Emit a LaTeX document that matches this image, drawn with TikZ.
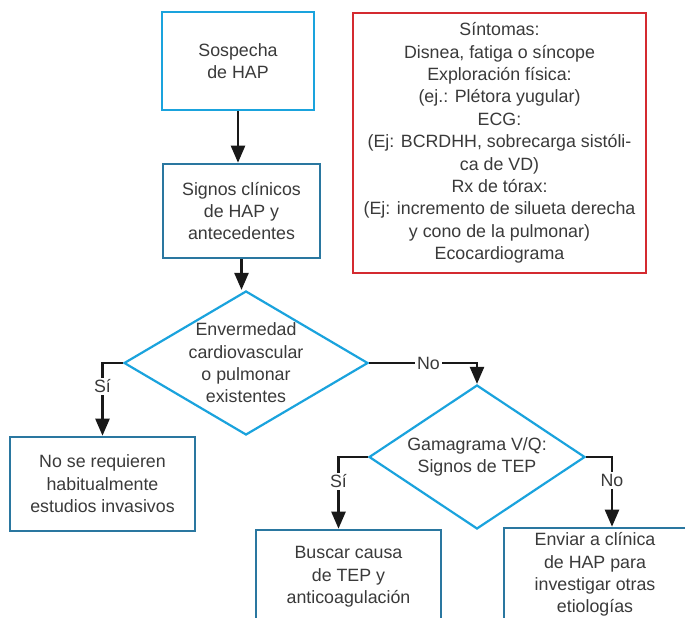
\documentclass[tikz,border=0pt]{standalone}
\usepackage{fontspec}
\setmainfont{Liberation Sans}
\usetikzlibrary{shapes.geometric,arrows.meta}

\definecolor{celeste}{HTML}{1AA3DD}
\definecolor{azulosc}{HTML}{2A77A0}
\definecolor{rojo}{HTML}{D42A30}
\definecolor{texto}{HTML}{3A3A3A}

\tikzset{
  testo/.style={font=\fontsize{17.8}{22.4}\selectfont, text=texto, align=center},
  caja/.style={testo, draw=azulosc, line width=2.6pt, inner sep=0pt},
  rombo/.style={diamond, draw=celeste, line width=2.2pt, inner sep=0pt},
  freccia/.style={draw=black!90, line width=2.4pt, -{Triangle[length=17pt,width=14pt]}},
  etiq/.style={testo, fill=white, inner sep=2pt}
}

\begin{document}
\begin{tikzpicture}[x=1pt, y=-1pt]
\clip (0,0) rectangle (685,618);
\fill[white] (0,0) rectangle (685,618);

% --- Cajas superiores ---
\node[caja, draw=celeste, minimum width=152, minimum height=98] (sosp) at (238,61) {Sospecha\\de HAP};
\node[caja, minimum width=157, minimum height=94] (signos) at (241.5,211) {Signos clínicos\\de HAP y\\antecedentes};
\node[caja, draw=rojo, minimum width=293, minimum height=260] (sint) at (499.5,143)
  {Síntomas:\\Disnea, fatiga o síncope\\Exploración física:\\(ej.: Plétora yugular)\\ECG:\\(Ej: BCRDHH, sobrecarga sistóli-\\ca de VD)\\Rx de tórax:\\(Ej: incremento de silueta derecha\\y cono de la pulmonar)\\Ecocardiograma};

% --- Rombos ---
\node[rombo, minimum width=244, minimum height=144,
  label={[testo]center:Envermedad\\cardiovascular\\o pulmonar\\existentes}] (enf) at (246,363) {};
\node[rombo, minimum width=216, minimum height=144,
  label={[testo]center:Gamagrama V/Q:\\Signos de TEP}] (gama) at (477,457) {};

% --- Cajas inferiores ---
\node[caja, minimum width=185, minimum height=94] (noinv) at (102.5,484) {No se requieren\\habitualmente\\estudios invasivos};
\node[caja, minimum width=185, minimum height=94] (tep) at (348.5,577) {Buscar causa\\de TEP y\\anticoagulación};
\node[caja, minimum width=182, minimum height=93] (otras) at (595,574.5) {Enviar a clínica\\de HAP para\\investigar otras\\etiologías};

% Flechas
\draw[freccia] (sosp.south) -- (sosp.south |- signos.north);
\draw[freccia] (signos.south) -- (signos.south |- enf.north);
\draw[freccia] (enf.west) -| node[etiq, pos=0.66] {Sí} (noinv.north);
\draw[freccia] (enf.east) -| node[etiq, pos=0.275] {No} (gama.north);
\draw[freccia] (gama.west) -| node[etiq, pos=0.67] {Sí} ([xshift=-10pt]tep.north);
\draw[freccia] (gama.east) -| node[etiq, pos=0.67] {No} ([xshift=17pt]otras.north);

\end{tikzpicture}
\end{document}
